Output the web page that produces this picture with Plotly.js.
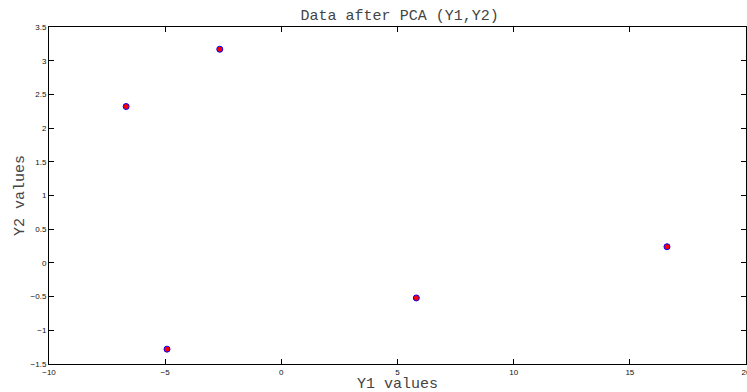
<!DOCTYPE html>
<html>
<head>
<meta charset="utf-8">
<script src="https://cdn.plot.ly/plotly-3.0.1.min.js"></script>
<style>html,body{margin:0;padding:0;background:#fff;}#chart{width:747px;height:392px;}</style>
</head>
<body>
<div id="chart"></div>
<script>
const y1Values = [-6.68, -2.65, -4.92, 5.81, 16.6];
const y2Values = [2.32, 3.17, -1.28, -0.52, 0.24];
const xTicks = [-10, -5, 0, 5, 10, 15, 20];
const yTicks = [-1.5, -1, -0.5, 0, 0.5, 1, 1.5, 2, 2.5, 3, 3.5];
const monoFont = 'Liberation Mono, Courier New, monospace';

const trace = {
  x: y1Values, y: y2Values, type: 'scatter', mode: 'markers',
  marker: {color: '#ff0000', size: 6, line: {color: '#0000ff', width: 1}},
  hoverinfo: 'none'
};
const axisCommon = {
  showgrid: false, zeroline: false, showline: true, mirror: 'ticks',
  linecolor: '#000', linewidth: 1, ticks: 'inside', ticklen: 5, tickcolor: '#000',
  ticklabeloverflow: 'allow',
  tickfont: {family: 'Liberation Sans, Arial, sans-serif', size: 8, color: '#111'}
};
const layout = {
  width: 747, height: 392,
  margin: {l: 49, r: 1, t: 27, b: 28},
  paper_bgcolor: '#fff', plot_bgcolor: '#fff',
  showlegend: false,
  title: {text: 'Data after PCA (Y1,Y2)', x: 0.535, xanchor: 'center', y: 0.962, yanchor: 'middle',
          font: {family: monoFont, size: 15, color: '#444'}},
  xaxis: Object.assign({}, axisCommon, {
    range: [-10, 20], tickvals: xTicks, ticktext: xTicks.map(v => v < 0 ? '\u2212' + Math.abs(v) : String(v))
  }),
  yaxis: Object.assign({}, axisCommon, {
    range: [-1.5, 3.5], tickvals: yTicks, ticktext: yTicks.map(v => v < 0 ? '\u2212' + Math.abs(v) : String(v)),
    title: {text: 'Y2 values', standoff: 2, font: {family: monoFont, size: 15, color: '#444'}}
  }),
  annotations: [{
    text: 'Y1 values', xref: 'paper', yref: 'paper', x: 0.5, y: 0, xanchor: 'center', yanchor: 'middle',
    yshift: -20, showarrow: false, font: {family: monoFont, size: 15, color: '#444'}
  }]
};
Plotly.newPlot('chart', [trace], layout, {displayModeBar: false, staticPlot: true});
</script>
</body>
</html>
